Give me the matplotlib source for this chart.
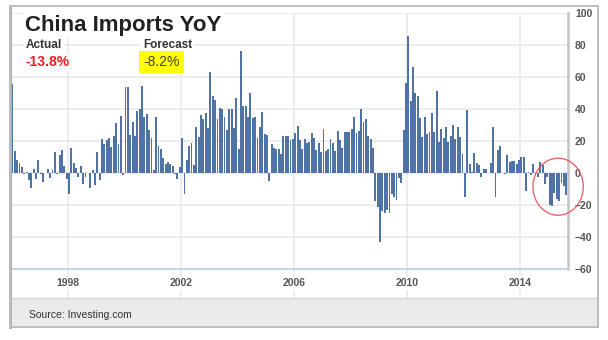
import numpy as np
import matplotlib
matplotlib.use("Agg")
import matplotlib.pyplot as plt
from matplotlib.patches import Rectangle, Ellipse

plt.rcParams['font.family'] = ['Liberation Sans', 'DejaVu Sans']

# China imports, year-on-year change (%), monthly from Jan 1996 to Aug 2015
y1996 = [55.4, 13.6, 7.9, 5.9, 3.8, -0.8, 0.6, -4.6, -9.8, 2.1, -3.6, 7.9]
y1997 = [-1.0, -6.0, 0.0, 2.5, -3.0, 2.0, 13.0, -1.0, 10.9, 14.0, 4.0, -4.0]
y1998 = [-13.0, 15.7, 6.3, 3.3, -2.5, 4.2, -6.7, -2.5, 0.0, -9.2, 1.7, -7.7]
y1999 = [13.2, -4.2, 21.0, 18.0, 20.5, 22.0, 16.0, 23.0, 31.0, 17.8, 35.7, -1.5]
y2000 = [53.5, 53.5, 23.4, 32.0, 23.0, 38.9, 39.7, 54.3, 35.0, 36.6, 27.0, 22.0]
y2001 = [1.7, 35.0, 16.5, 15.0, 9.0, 5.5, 7.0, 5.5, 4.0, -0.8, -3.6, 3.8]
y2002 = [21.5, -13.0, 8.0, 17.0, 18.8, 5.0, 28.8, 22.6, 36.0, 33.9, 37.6, 28.2]
y2003 = [63.0, 48.0, 45.4, 33.9, 40.3, 39.7, 34.9, 26.8, 39.7, 39.7, 28.2, 47.0]
y2004 = [15.0, 76.0, 42.0, 42.0, 35.0, 50.0, 34.0, 35.0, 22.0, 28.8, 38.0, 24.0]
y2005 = [23.4, -5.0, 17.8, 15.7, 15.0, 15.0, 11.5, 23.0, 23.0, 23.0, 20.3, 21.3]
y2006 = [25.0, 29.3, 20.5, 15.0, 21.3, 18.8, 19.2, 24.7, 22.0, 14.2, 18.4, 13.0]
y2007 = [27.6, 13.7, 14.6, 21.3, 18.8, 13.6, 26.0, 20.6, 15.7, 25.3, 25.3, 25.7]
y2008 = [27.6, 35.0, 24.6, 26.4, 40.0, 31.6, 33.7, 23.1, 21.3, 15.6, -17.9, -21.3]
y2009 = [-43.1, -24.1, -25.1, -23.0, -25.2, -13.2, -14.9, -17.0, -3.5, -6.4, 26.7, 55.9]
y2010 = [85.5, 44.7, 66.0, 49.7, 48.3, 34.1, 22.7, 35.2, 24.1, 25.3, 37.7, 25.6]
y2011 = [51.0, 19.4, 27.3, 21.8, 28.4, 19.3, 22.9, 30.2, 20.9, 28.7, 22.1, 11.8]
y2012 = [-15.3, 39.6, 5.3, 0.3, 12.7, 6.3, 4.7, -2.6, 2.4, 2.4, 0.0, 6.0]
y2013 = [28.8, -15.2, 14.1, 16.8, -0.3, -0.7, 10.9, 7.0, 7.4, 7.6, 5.3, 8.3]
y2014 = [10.0, 10.1, -11.3, 0.8, -1.6, 5.5, -1.6, -2.4, 7.0, 4.6, -6.7, -2.4]
y2015 = [-19.9, -20.5, -12.7, -16.2, -17.6, -6.1, -8.1, -13.8]

start_year = 1996
year_ticks = [1998, 2002, 2006, 2010, 2014]
y_ticks = [-60, -40, -20, 0, 20, 40, 60, 80, 100]
actual_txt = "-13.8%"
forecast_txt = "-8.2%"

values = np.array(y1996 + y1997 + y1998 + y1999 + y2000 + y2001 + y2002 + y2003
                  + y2004 + y2005 + y2006 + y2007 + y2008 + y2009 + y2010
                  + y2011 + y2012 + y2013 + y2014 + y2015)
months = start_year + (np.arange(len(values)) + 0.5) / 12.0

W, H = 608, 340
fig = plt.figure(figsize=(W / 100, H / 100), dpi=100)

# plot area (pixels): x 11..568, y 13..269
ax_b = 268.7
ax_t = 13
ax = fig.add_axes([11 / W, 1 - ax_b / H, (568 - 11) / W, (ax_b - ax_t) / H])
ax.bar(months, values, width=0.8 / 12, color='#4f73a6', linewidth=0, zorder=3)

ax.set_xlim(1995.99, 2015.69)
ax.set_ylim(-60, 100)
ax.set_xticks(year_ticks)
ax.set_xticklabels([str(y) for y in year_ticks])
ax.set_yticks(y_ticks)
ax.yaxis.tick_right()
ax.tick_params(axis='y', length=0, pad=5, labelsize=7.5, labelcolor='#555555')
ax.tick_params(axis='x', length=0, pad=7, labelsize=7.5, labelcolor='#555555')
for lab in ax.get_xticklabels() + ax.get_yticklabels():
    lab.set_fontweight('bold')
    lab.set_bbox(dict(facecolor='white', edgecolor='none', pad=1))
ax.grid(True, color='#e9e9e9', linewidth=1.2, zorder=0)
ax.set_axisbelow(True)
for s in ['top', 'left']:
    ax.spines[s].set_visible(False)
ax.spines['right'].set_color('#c4c4c4')
ax.spines['right'].set_linewidth(1.8)
ax.spines['bottom'].set_color('#c7d4e4')
ax.spines['bottom'].set_linewidth(1.5)

# vertical year gridlines continue under the axis down to the footer
foot_top = 298
for yr in year_ticks:
    xf = ax.transAxes.inverted().transform(ax.transData.transform((yr, 0)))[0]
    ax.plot([xf, xf], [0, -(foot_top - ax_b) / (ax_b - ax_t)], transform=ax.transAxes,
            color='#e9e9e9', linewidth=1.2, clip_on=False, zorder=0)

# red circle around the 2015 bars
circ = Ellipse((2015.34, -8.7), 1.78, 35.7, fill=False, edgecolor='#e05050',
               linewidth=1.0, alpha=0.85, clip_on=False, zorder=5)
ax.add_patch(circ)

# outer frame and footer
fig.patches.append(Rectangle((10 / W, 1 - 327 / H), (598 - 10) / W, (327 - foot_top) / H,
                             transform=fig.transFigure, facecolor='#ebebeb',
                             edgecolor='none', zorder=-1))
fig.lines.append(plt.Line2D([10 / W, 598 / W], [1 - foot_top / H, 1 - foot_top / H],
                            transform=fig.transFigure, color='#d4d4d4', linewidth=1))
fig.patches.append(Rectangle((10 / W, 1 - 327 / H), (598 - 10) / W, (327 - 6) / H,
                             transform=fig.transFigure, facecolor='none',
                             edgecolor='#bdbdbd', linewidth=1.4, zorder=10))
fig.lines.append(plt.Line2D([10 / W, 10 / W], [1 - 327 / H, 1 - 6 / H],
                            transform=fig.transFigure, color='#b0b0b0', linewidth=2.2))

wb = dict(facecolor='white', edgecolor='none', pad=1.5)
fig.text(25 / W, 1 - 31 / H, "China Imports YoY", fontsize=16, fontweight='bold',
         color='#222222', va='baseline', ha='left', bbox=wb, zorder=20)
fig.text(26 / W, 1 - 48 / H, "Actual", fontsize=8.5, fontweight='bold',
         color='#333333', va='baseline', ha='left', bbox=wb, zorder=20)
fig.text(26 / W, 1 - 66 / H, actual_txt, fontsize=10, fontweight='bold',
         color='#ee1c25', va='baseline', ha='left', bbox=wb, zorder=20)
fig.text(143 / W, 1 - 48 / H, "Forecast", fontsize=8.5, fontweight='bold',
         color='#333333', va='baseline', ha='left', bbox=wb, zorder=20)
fig.text(143 / W, 1 - 66 / H, forecast_txt, fontsize=10,
         color='#444422', va='baseline', ha='left',
         bbox=dict(facecolor='#ffff00', edgecolor='none', pad=3), zorder=20)
fig.text(29 / W, 1 - 315 / H, "Source: Investing.com", fontsize=7.5,
         color='#333333', va='center', ha='left')

fig.savefig("out.png", dpi=100)
